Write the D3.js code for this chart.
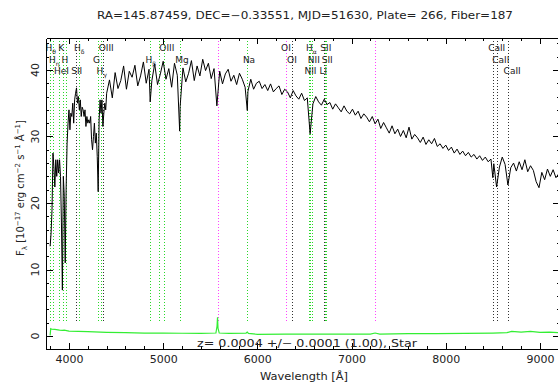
<!DOCTYPE html>
<html>
<head>
<meta charset="utf-8">
<script src="https://cdn.jsdelivr.net/npm/d3@7"></script>
<style>
  body { margin: 0; background: #fff; }
  svg { display: block; font-family: "DejaVu Sans", sans-serif; }
  .axis path, .axis line { stroke: #000; shape-rendering: crispEdges; }
</style>
</head>
<body>
<div id="chart"></div>
<script>
// spectrum samples (wavelength in Angstrom, flux in 1e-17 erg/cm2/s/A)
const spectrumWave = [
  3800, 3810, 3820, 3830, 3840, 3850, 3860, 3870, 3880, 3890,
  3900, 3910, 3920, 3930, 3940, 3950, 3960, 3970, 3980, 3990,
  4000, 4010, 4020, 4030, 4040, 4050, 4060, 4070, 4080, 4090,
  4100, 4110, 4120, 4130, 4140, 4150, 4160, 4170, 4180, 4190,
  4200, 4210, 4220, 4230, 4240, 4250, 4260, 4270, 4280, 4290,
  4300, 4310, 4320, 4330, 4340, 4350, 4360, 4370, 4380, 4390,
  4400,
  4430, 4460, 4490, 4520, 4550, 4580, 4610, 4640, 4670, 4700,
  4730, 4760, 4790, 4820, 4850, 4862, 4880, 4910, 4940, 4970,
  5000, 5030, 5060, 5090, 5120, 5150, 5175, 5180, 5210, 5240,
  5270, 5300, 5330, 5360, 5390, 5420, 5450, 5480, 5510, 5540,
  5570, 5600, 5630, 5660, 5690, 5720, 5750, 5780, 5810, 5840,
  5870, 5893, 5900, 5930, 5960, 5990, 6020, 6050, 6080, 6110,
  6140, 6170, 6200, 6230, 6260, 6290, 6320, 6350, 6380, 6410,
  6440, 6470, 6500, 6530, 6560, 6590, 6620, 6650, 6680, 6710,
  6740, 6770, 6800, 6830, 6860, 6890, 6920, 6950, 6980, 7010,
  7040, 7070, 7100, 7130, 7160, 7190, 7220, 7250, 7280, 7310,
  7340, 7370, 7400, 7430, 7460, 7490, 7520, 7550, 7580, 7610,
  7640, 7670, 7700, 7730, 7760, 7790, 7820, 7850, 7880, 7910,
  7940, 7970, 8000, 8030, 8060, 8090, 8120, 8150, 8180, 8210,
  8240, 8270, 8300, 8330, 8360, 8390, 8420, 8450, 8480, 8500,
  8510, 8540, 8570, 8600, 8630, 8660, 8690, 8720, 8750, 8780,
  8810, 8840, 8870, 8900, 8930, 8960, 8990, 9020, 9050, 9080,
  9110, 9140, 9170, 9200
];
const spectrumFlux = [
  13.5, 15.5, 19, 27.5, 25.4, 22.4, 26.5, 24, 26.5, 24.5,
  26.5, 24, 17, 6.9, 24, 21, 11, 22.4, 29, 32,
  34, 31, 33.5, 33, 35, 32, 35.5, 36.5, 37.3, 35,
  36, 34, 35.5, 33, 34.4, 34, 33, 34, 31.5, 33,
  32, 32.5, 32, 33, 29.5, 28, 30, 32, 29, 30.5,
  27, 21.7, 32.5, 35.5, 33.5, 35.5, 31.5, 33.5, 35, 34,
  36.5,
  38.5, 35.8, 39.6, 37.2, 38.4, 40.6, 37.1, 39.8, 38.9, 40.7,
  37.6, 39.1, 41.2, 38.0, 40.1, 35.2, 38.4, 40.9, 37.8, 39.4,
  41.3, 38.6, 40.2, 37.4, 41.0, 39.2, 30.8, 34.5, 40.3, 38.2,
  39.5, 41.4, 38.4, 40.6, 39.1, 41.6, 39.9, 41.0, 38.7, 40.2,
  34.6, 39.8, 37.9, 39.4, 40.1, 38.3, 39.2, 37.8, 39.5, 38.6,
  37.4, 33.9, 36.8, 38.6, 37.1, 38.0, 38.3, 37.2, 37.8, 36.9,
  37.9, 36.7, 37.2, 37.6, 36.3, 37.1, 36.7, 35.8, 36.9, 36.1,
  35.6, 36.5, 35.4, 35.8, 30.4, 34.9, 36.0, 35.2, 34.7, 35.6,
  34.8, 35.1, 34.1, 34.9, 34.3, 33.7, 34.6, 33.8, 33.4, 34.1,
  33.2, 33.8, 32.7, 33.4, 32.9, 32.2, 33.0, 31.9, 32.6, 31.2,
  32.1, 31.3, 30.5, 31.6, 30.4, 31.1, 30.0, 30.9, 29.8, 31.4,
  29.6, 30.3, 29.8, 29.1, 29.9, 28.8, 29.5, 28.9, 29.7, 28.5,
  28.9, 28.2, 28.7, 27.9, 28.4, 27.5, 28.1, 27.3, 27.8, 27.1,
  27.6, 26.9, 27.3, 26.6, 27.1, 26.4, 26.9, 26.2, 26.6, 23.8,
  25.9, 22.4, 25.4, 26.9, 25.8, 22.7, 25.3, 26.0, 24.8, 26.2,
  25.0, 26.5, 24.7, 25.6, 24.9, 23.2, 22.3, 24.6, 23.5, 25.1,
  24.0, 25.0, 23.8, 24.4
];

// error spectrum (green curve near zero)
const errorWave = [3800, 3806, 3815, 3850, 3900, 3930, 3950, 4000, 4100, 4200, 4400, 4600, 4800, 5000, 5200, 5400, 5560, 5572, 5577, 5582, 5595, 5700, 5880, 5893, 5905, 6000, 6300, 6600, 6900, 7200, 7250, 7300, 7600, 7900, 8200, 8500, 8650, 8700, 8800, 8900, 9000, 9100, 9200];
const errorFlux = [0.1, 1.1, 1.05, 1.0, 0.9, 0.85, 0.9, 0.75, 0.7, 0.65, 0.55, 0.5, 0.45, 0.45, 0.42, 0.4, 0.45, 1.5, 2.8, 1.2, 0.45, 0.4, 0.45, 0.6, 0.4, 0.25, 0.28, 0.3, 0.3, 0.3, 0.45, 0.3, 0.35, 0.35, 0.4, 0.45, 0.5, 0.7, 0.6, 0.7, 0.55, 0.6, 0.5];

// marked spectral lines: label, wavelength, kind, label row
const lineLabels = ['H_θ', 'H_η', 'HeI', 'K', 'H', 'SII', 'H_δ', 'G', 'H_γ', 'OIII', 'H_β', '', 'OIII', 'Mg', '', 'Na', 'OI', 'OI', 'NII', 'H_α', 'NII', 'Li', 'SII', 'SII', '', 'CaII', 'CaII', 'CaII'];
const lineWaves  = [3798, 3835, 3889, 3934, 3969, 4072, 4102, 4304, 4341, 4363, 4861, 4959, 5007, 5175, 5577, 5894, 6300, 6363, 6548, 6563, 6583, 6707, 6716, 6731, 7246, 8498, 8542, 8662];
const lineKinds  = ['em', 'em', 'em', 'em', 'em', 'ab', 'em', 'em', 'em', 'ab', 'em', 'em', 'em', 'em', 'sky', 'em', 'sky', 'ab', 'em', 'em', 'em', 'ab', 'em', 'em', 'sky', 'ab', 'ab', 'ab'];
const lineRows   = [0, 1, 2, 0, 1, 2, 0, 1, 2, 0, 1, 0, 0, 1, 0, 1, 0, 1, 2, 0, 1, 2, 0, 1, 0, 0, 1, 2];

const xMajor = [4000, 5000, 6000, 7000, 8000, 9000];
const yMajor = [0, 10, 20, 30, 40];

const titleText = 'RA=145.87459, DEC=\u22120.33551, MJD=51630, Plate=  266, Fiber=187';
const fitText = 'z= 0.0004 +/\u2212 0.0001 (1.00), Star';

const width = 558, height = 385;
const plot = { left: 46, right: 560, top: 38, bottom: 349 };
const kindColor = { em: '#2ad82a', ab: '#333', sky: '#ff44ff' };

const svg = d3.select('#chart').append('svg')
  .attr('width', width)
  .attr('height', height);

svg.append('rect').attr('width', width).attr('height', height).attr('fill', '#fff');

const xScale = d3.scaleLinear().domain([3756, 9213]).range([plot.left, plot.right]);
const yScale = d3.scaleLinear().domain([-1.95, 44.8]).range([plot.bottom, plot.top]);

svg.append('clipPath').attr('id', 'plotClip')
  .append('rect')
  .attr('x', plot.left).attr('y', plot.top)
  .attr('width', plot.right - plot.left).attr('height', plot.bottom - plot.top);

const body = svg.append('g').attr('clip-path', 'url(#plotClip)');

// dotted line markers
const markers = lineWaves.map((w, i) => ({ wave: w, kind: lineKinds[i], label: lineLabels[i], row: lineRows[i] }));

body.selectAll('line.marker')
  .data(markers)
  .join('line')
  .attr('class', 'marker')
  .attr('x1', d => Math.round(xScale(d.wave)) + 0.5)
  .attr('x2', d => Math.round(xScale(d.wave)) + 0.5)
  .attr('y1', yScale(44.8))
  .attr('y2', yScale(2))
  .attr('stroke', d => kindColor[d.kind])
  .attr('stroke-width', 1)
  .attr('stroke-dasharray', '1,2');

// error curve
const errLine = d3.line()
  .x((d, i) => xScale(errorWave[i]))
  .y(d => yScale(d));

body.append('path')
  .attr('d', errLine(errorFlux))
  .attr('fill', 'none')
  .attr('stroke', '#33ee33')
  .attr('stroke-width', 1.2);

// spectrum
const specLine = d3.line()
  .x((d, i) => xScale(spectrumWave[i]))
  .y(d => yScale(d));

body.append('path')
  .attr('d', specLine(spectrumFlux))
  .attr('fill', 'none')
  .attr('stroke', '#000')
  .style('stroke-width', 1);

// line labels
const rowY = [50.5, 62.5, 74];
const labels = svg.append('g')
  .attr('font-size', 9)
  .attr('fill', '#222');

markers.filter(d => d.label).forEach(d => {
  const parts = d.label.split('_');
  const t = labels.append('text')
    .attr('x', xScale(d.wave) - 4.5)
    .attr('y', rowY[d.row]);
  t.append('tspan').text(parts[0]);
  if (parts[1]) {
    t.append('tspan')
      .attr('font-size', 6)
      .attr('dy', 3)
      .text(parts[1]);
  }
});

// axes
const xMinor = d3.range(3800, 9201, 200).filter(v => v % 1000 !== 0);
const yMinor = d3.range(0, 45, 2).filter(v => v % 10 !== 0);

function addAxis(gen, tx, ty) {
  return svg.append('g')
    .attr('class', 'axis')
    .attr('transform', `translate(${tx},${ty})`)
    .call(gen);
}

const xBottom = addAxis(d3.axisBottom(xScale).tickValues(xMajor).tickSizeInner(-6).tickSizeOuter(0).tickPadding(6).tickFormat(d3.format('d')), 0, plot.bottom);
addAxis(d3.axisBottom(xScale).tickValues(xMinor).tickSizeInner(-3).tickSizeOuter(0).tickFormat(''), 0, plot.bottom);
addAxis(d3.axisTop(xScale).tickValues(xMajor).tickSizeInner(-6).tickSizeOuter(0).tickFormat(''), 0, plot.top);
addAxis(d3.axisTop(xScale).tickValues(xMinor).tickSizeInner(-3).tickSizeOuter(0).tickFormat(''), 0, plot.top);
addAxis(d3.axisLeft(yScale).tickValues(yMajor).tickSizeInner(-7).tickSizeOuter(0).tickFormat(''), plot.left, 0);
addAxis(d3.axisLeft(yScale).tickValues(yMinor).tickSizeInner(-3).tickSizeOuter(0).tickFormat(''), plot.left, 0);
addAxis(d3.axisRight(yScale).tickValues(yMajor).tickSizeInner(-7).tickSizeOuter(0).tickFormat(''), plot.right, 0);
addAxis(d3.axisRight(yScale).tickValues(yMinor).tickSizeInner(-3).tickSizeOuter(0).tickFormat(''), plot.right, 0);

xBottom.selectAll('text')
  .attr('font-size', 11)
  .attr('font-family', '"DejaVu Sans", sans-serif')
  .attr('fill', '#222');

// rotated y tick labels
svg.append('g')
  .selectAll('text')
  .data(yMajor)
  .join('text')
  .attr('transform', d => `translate(39,${yScale(d)}) rotate(-90)`)
  .attr('text-anchor', 'middle')
  .attr('font-size', 11)
  .attr('fill', '#222')
  .text(d => d);

// titles
svg.append('text')
  .attr('x', 97).attr('y', 18.5)
  .attr('font-size', 10)
  .attr('fill', '#222')
  .attr('textLength', 416)
  .attr('lengthAdjust', 'spacingAndGlyphs')
  .text(titleText);

svg.append('text')
  .attr('x', 197).attr('y', 346.5)
  .attr('font-size', 10)
  .attr('fill', '#222')
  .attr('textLength', 220)
  .attr('lengthAdjust', 'spacingAndGlyphs')
  .text(fitText);

svg.append('text')
  .attr('x', 260).attr('y', 380)
  .attr('font-size', 10)
  .attr('fill', '#222')
  .attr('textLength', 88)
  .attr('lengthAdjust', 'spacingAndGlyphs')
  .text('Wavelength [\u00c5]');

const yTitle = svg.append('text')
  .attr('transform', 'translate(24,188) rotate(-90)')
  .attr('text-anchor', 'middle')
  .attr('font-size', 10)
  .attr('fill', '#222');
yTitle.append('tspan').text('F');
yTitle.append('tspan').attr('font-size', 7).attr('dy', 3).text('\u03bb');
yTitle.append('tspan').attr('dy', -3).text(' [10');
yTitle.append('tspan').attr('font-size', 7).attr('dy', -4).text('\u221217');
yTitle.append('tspan').attr('dy', 4).text(' erg cm');
yTitle.append('tspan').attr('font-size', 7).attr('dy', -4).text('\u22122');
yTitle.append('tspan').attr('dy', 4).text(' s');
yTitle.append('tspan').attr('font-size', 7).attr('dy', -4).text('\u22121');
yTitle.append('tspan').attr('dy', 4).text(' \u00c5');
yTitle.append('tspan').attr('font-size', 7).attr('dy', -4).text('\u22121');
yTitle.append('tspan').attr('dy', 4).text(']');
</script>
</body>
</html>
